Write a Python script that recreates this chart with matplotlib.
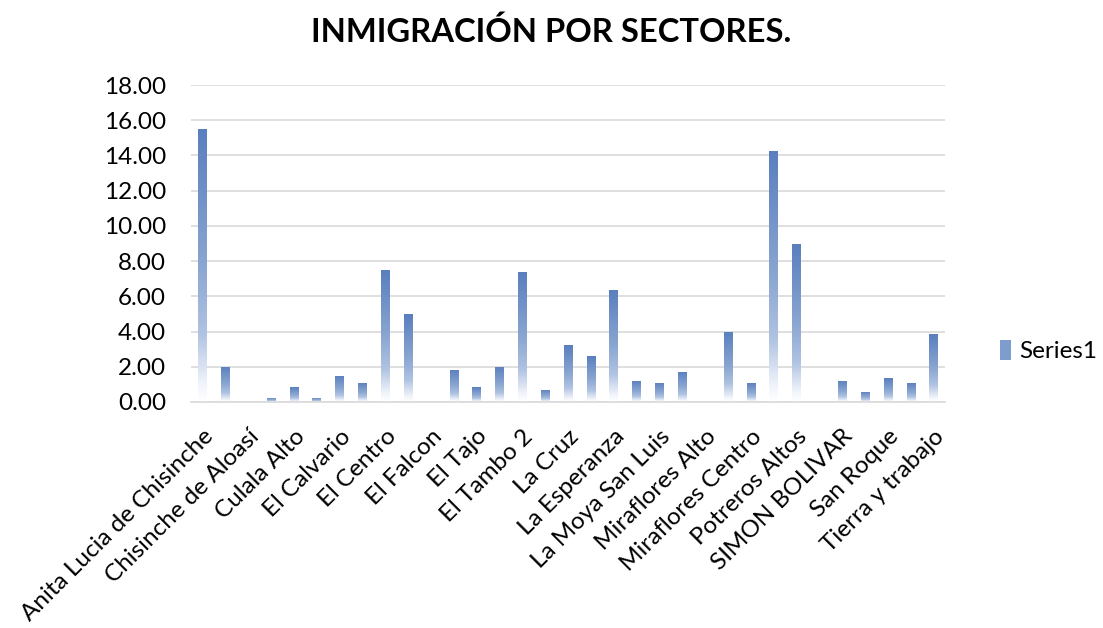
import matplotlib
matplotlib.use("Agg")
import matplotlib.pyplot as plt
import numpy as np
from matplotlib.colors import LinearSegmentedColormap
from matplotlib.patches import Patch

plt.rcParams['font.family'] = ['Lato', 'DejaVu Sans']

# data: 33 sectors, only every other name is printed on the axis
labels = ["Anita Lucia de Chisinche", "", "Chisinche de Aloasí", "", "Culala Alto", "",
          "El Calvario", "", "El Centro", "", "El Falcon", "", "El Tajo", "",
          "El Tambo 2", "", "La Cruz", "", "La Esperanza", "", "La Moya San Luis", "",
          "Miraflores Alto", "", "Miraflores Centro", "", "Potreros Altos", "",
          "SIMON BOLIVAR", "", "San Roque", "", "Tierra y trabajo"]
values = [15.48, 2.00, 0.00, 0.23, 0.85, 0.23, 1.48, 1.08, 7.48, 4.98, 0.00,
          1.84, 0.85, 1.99, 7.37, 0.70, 3.22, 2.59, 6.34, 1.21, 1.08, 1.72,
          0.00, 3.98, 1.08, 14.24, 8.96, 0.00, 1.21, 0.57, 1.34, 1.08, 3.84]
yticks = np.arange(0, 19, 2)

fig = plt.figure(figsize=(11.03, 6.28), dpi=100)
ax = fig.add_axes([191 / 1103, 1 - 402 / 628, (945 - 191) / 1103, (402 - 85) / 628])

grad = LinearSegmentedColormap.from_list(
    "g", [(0, "#FFFFFF"), (0.06, "#F2F5FB"), (0.25, "#B0C3E2"),
          (0.5, "#8AA6D1"), (1, "#5A7FBE")])

x = np.arange(len(values))
bars = ax.bar(x, values, width=0.37, color="none", edgecolor="none", zorder=2)
g = np.linspace(0, 1, 256).reshape(-1, 1)
for b in bars:
    h = b.get_height()
    if h <= 0:
        continue
    x0 = b.get_x()
    im = ax.imshow(g, cmap=grad, origin="lower", aspect="auto",
                   extent=[x0, x0 + b.get_width(), 0, h], zorder=2)
    im.set_clip_path(b)

ax.set_xlim(-0.5, len(values) - 0.5)
ax.set_ylim(0, 18)
ax.set_yticks(yticks)
ax.set_yticklabels([f"{v:.2f}" for v in yticks], fontsize=17.5)
ax.set_xticks(x)
ax.set_xticklabels(labels, rotation=45, ha="right", va="top",
                   rotation_mode="anchor", fontsize=17.5)
ax.tick_params(axis="both", length=0)
ax.tick_params(axis="y", pad=18)
ax.tick_params(axis="x", pad=17)
ax.yaxis.grid(True, color="#D9D9D9", linewidth=1.2, zorder=0)
ax.set_axisbelow(True)
for s in ["left", "right", "top"]:
    ax.spines[s].set_visible(False)
ax.spines["bottom"].set_color("#D9D9D9")
ax.spines["bottom"].set_linewidth(1.2)

fig.text(0.5, 1 - 32 / 628, "INMIGRACIÓN POR SECTORES.", ha="center", va="center",
         fontsize=23.6, fontweight="bold")

fig.legend(handles=[Patch(facecolor="#7E9CCC", edgecolor="none", label="Series1")],
           loc="center left", bbox_to_anchor=(1000 / 1103, 1 - 351 / 628), frameon=False,
           fontsize=17.5, handlelength=0.45, handleheight=0.9, handletextpad=0.35,
           borderpad=0, borderaxespad=0)

fig.savefig("out.png", dpi=100)
